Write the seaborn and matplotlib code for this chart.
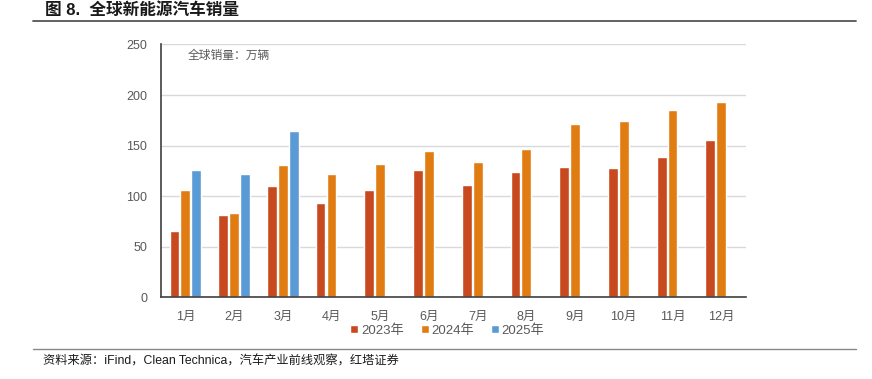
import numpy as np
import pandas as pd
import matplotlib
matplotlib.use('Agg')
import matplotlib.pyplot as plt
import seaborn as sns

# data (万辆)
months = ['1月', '2月', '3月', '4月', '5月', '6月', '7月', '8月', '9月', '10月', '11月', '12月']
sales_2023 = [66, 81, 110, 93, 106, 126, 111, 124, 129, 128, 139, 156]
sales_2024 = [106, 83, 131, 122, 132, 145, 134, 147, 171, 174, 185, 193]
sales_2025 = [126, 122, 164]
years = ['2023年', '2024年', '2025年']
colors = ['#C9491F', '#E07C12', '#5B9BD5']

rows = []
for i, m in enumerate(months):
    rows.append((m, years[0], sales_2023[i]))
    rows.append((m, years[1], sales_2024[i]))
    rows.append((m, years[2], sales_2025[i] if i < len(sales_2025) else np.nan))
df = pd.DataFrame(rows, columns=['月份', '年份', '销量'])

sns.set_style('white')
plt.rcParams['font.family'] = ['Liberation Sans', 'Noto Sans CJK SC', 'DejaVu Sans']

fig = plt.figure(figsize=(8.72, 3.79), dpi=100)
ax = fig.add_axes([0.1846, 0.2156, 0.6704, 0.667])

sns.barplot(data=df, x='月份', y='销量', hue='年份', hue_order=years, order=months,
            palette=colors, width=0.67, gap=0.1, saturation=1, errorbar=None, ax=ax)

ax.set_ylim(0, 250)
ax.set_xlim(-0.5, 11.5)
ax.set_yticks([0, 50, 100, 150, 200, 250])
ax.yaxis.grid(True, color='#D9D9D9', lw=1)
ax.set_axisbelow(True)
ax.set_xlabel('')
ax.set_ylabel('')
for s in ['top', 'right']:
    ax.spines[s].set_visible(False)
ax.spines['left'].set_color('#404040')
ax.spines['bottom'].set_color('#404040')
ax.spines['left'].set_linewidth(1.2)
ax.spines['bottom'].set_linewidth(1.2)
ax.tick_params(axis='both', length=0, labelsize=9, colors='#595959')
ax.tick_params(axis='y', pad=10)
ax.tick_params(axis='x', pad=10)

ax.text(0.045, 0.98, '全球销量：万辆', transform=ax.transAxes, fontsize=8.5,
        color='#595959', va='top', ha='left')

ax.legend(loc='upper center', bbox_to_anchor=(0.49, -0.06), ncol=3, frameon=False,
          fontsize=9.5, handlelength=0.6, handleheight=0.6, handletextpad=0.2,
          columnspacing=1.3, labelcolor='#595959')

# title, rules and source
fig.text(45 / 872, 1 - 10 / 379, '图 8.  全球新能源汽车销量', fontsize=12, fontweight='bold',
         va='center', ha='left', color='#1A1A1A')
fig.add_artist(plt.Line2D([33 / 872, 856 / 872], [1 - 21 / 379, 1 - 21 / 379],
                          color='#555555', lw=1.3))
fig.add_artist(plt.Line2D([33 / 872, 856 / 872], [1 - 349 / 379, 1 - 349 / 379],
                          color='#888888', lw=1.0))
fig.text(43 / 872, 1 - 361 / 379, '资料来源：iFind，Clean Technica，汽车产业前线观察，红塔证券',
         fontsize=8.8, va='center', ha='left', color='#1A1A1A')

fig.savefig('out.png', dpi=100)
